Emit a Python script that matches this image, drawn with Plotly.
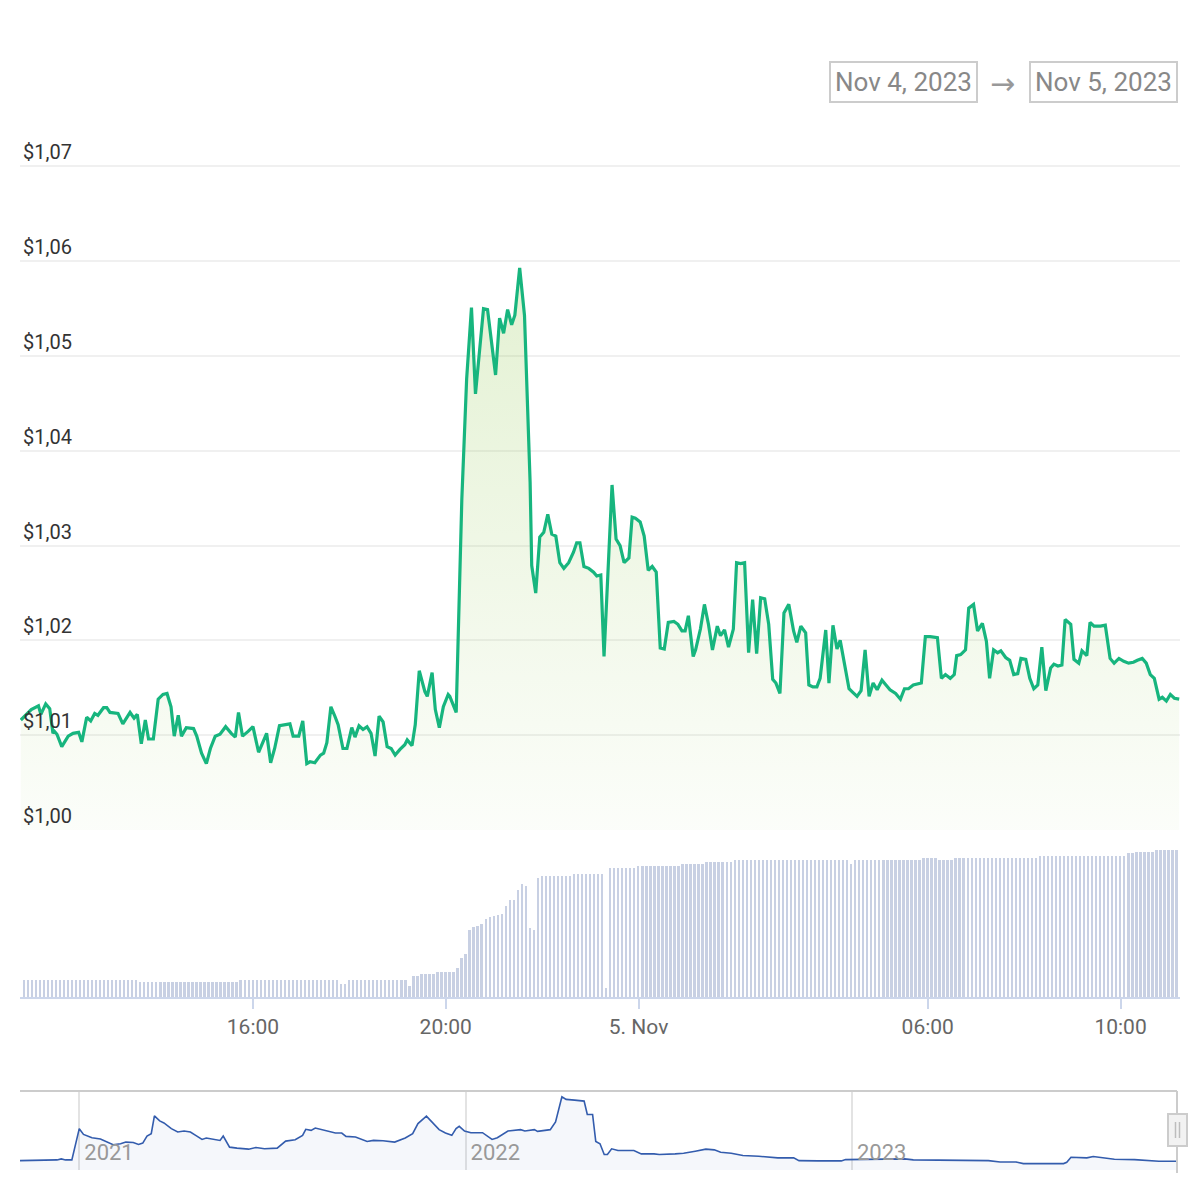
import pandas as pd
import plotly.graph_objects as go

# ---------------- data ----------------
START = pd.Timestamp("2023-11-04 11:00")

# minutes after 2023-11-04 11:00
price_minutes = [
    11, 24, 33, 36, 42, 47, 51, 53, 56, 62,
    70, 76, 83, 87, 93, 98, 103, 107, 114, 118,
    122, 132, 138, 147, 152, 156, 161, 166, 170, 176,
    182, 188, 193, 198, 202, 207, 211, 217, 226, 230,
    236, 242, 247, 253, 259, 266, 273, 278, 282, 287,
    294, 300, 307, 313, 317, 322, 327, 333, 340, 346,
    350, 357, 362, 367, 371, 377, 384, 388, 392, 397,
    402, 406, 412, 417, 423, 427, 432, 437, 442, 447,
    452, 457, 462, 467, 472, 477, 483, 489, 492, 498,
    502, 507, 514, 517, 523, 527, 532, 537, 543, 545,
    553, 560, 566, 572, 577, 587, 592, 602, 607, 612,
    617, 622, 626, 632, 638, 641, 645, 647, 652, 657,
    662, 667, 672, 677, 682, 687, 693, 699, 703, 707,
    712, 718, 724, 728, 733, 737, 747, 752, 757, 762,
    768, 772, 776, 782, 787, 792, 797, 802, 807, 812,
    817, 824, 829, 834, 838, 842, 848, 851, 857, 862,
    867, 872, 878, 882, 887, 892, 898, 902, 907, 912,
    917, 922, 927, 932, 937, 942, 947, 951, 956, 961,
    967, 973, 977, 982, 988, 992, 997, 1002, 1006, 1013,
    1017, 1022, 1027, 1031, 1035, 1042, 1047, 1052, 1057, 1062,
    1067, 1072, 1077, 1083, 1088, 1093, 1100, 1106, 1111, 1116,
    1122, 1132, 1137, 1143, 1152, 1157, 1162, 1168, 1173, 1176,
    1181, 1187, 1191, 1197, 1202, 1208, 1213, 1217, 1222, 1227,
    1231, 1237, 1242, 1247, 1252, 1256, 1262, 1267, 1272, 1277,
    1282, 1287, 1293, 1297, 1302, 1307, 1311, 1318, 1322, 1328,
    1332, 1338, 1342, 1347, 1355, 1361, 1367, 1372, 1378, 1384,
    1390, 1396, 1401, 1407, 1412, 1417, 1422, 1428, 1432, 1437,
    1442, 1447, 1453,
]

price_usd = [
    1.0116, 1.0127, 1.0131, 1.0122, 1.0133, 1.0128, 1.0102, 1.0104, 1.0101, 1.0088,
    1.0099, 1.0102, 1.0103, 1.0093, 1.0119, 1.0115, 1.0123, 1.0121, 1.0129, 1.0129,
    1.0124, 1.0123, 1.0112, 1.0124, 1.0118, 1.0122, 1.0091, 1.0116, 1.0096, 1.0096,
    1.0138, 1.0143, 1.0144, 1.0130, 1.0099, 1.0121, 1.0099, 1.0108, 1.0107, 1.0099,
    1.0081, 1.0070, 1.0086, 1.0099, 1.0101, 1.0109, 1.0102, 1.0098, 1.0124, 1.0099,
    1.0104, 1.0109, 1.0082, 1.0093, 1.0102, 1.0071, 1.0086, 1.0110, 1.0111, 1.0112,
    1.0099, 1.0099, 1.0115, 1.0070, 1.0072, 1.0071, 1.0079, 1.0081, 1.0092, 1.0130,
    1.0120, 1.0111, 1.0086, 1.0086, 1.0108, 1.0098, 1.0110, 1.0106, 1.0109, 1.0102,
    1.0078, 1.0120, 1.0114, 1.0088, 1.0086, 1.0079, 1.0085, 1.0090, 1.0095, 1.0089,
    1.0111, 1.0168, 1.0146, 1.0141, 1.0166, 1.0127, 1.0108, 1.0130, 1.0143, 1.0141,
    1.0124, 1.0349, 1.0476, 1.0551, 1.0460, 1.0550, 1.0549, 1.0480, 1.0540, 1.0524,
    1.0549, 1.0533, 1.0543, 1.0593, 1.0543, 1.0459, 1.0367, 1.0279, 1.0250, 1.0309,
    1.0314, 1.0333, 1.0312, 1.0310, 1.0282, 1.0276, 1.0282, 1.0293, 1.0303, 1.0303,
    1.0278, 1.0276, 1.0272, 1.0268, 1.0269, 1.0183, 1.0364, 1.0307, 1.0300, 1.0282,
    1.0287, 1.0330, 1.0329, 1.0325, 1.0310, 1.0274, 1.0278, 1.0272, 1.0192, 1.0191,
    1.0219, 1.0220, 1.0217, 1.0210, 1.0210, 1.0226, 1.0183, 1.0190, 1.0212, 1.0238,
    1.0217, 1.0190, 1.0215, 1.0205, 1.0211, 1.0193, 1.0212, 1.0282, 1.0281, 1.0282,
    1.0187, 1.0243, 1.0186, 1.0245, 1.0244, 1.0217, 1.0159, 1.0155, 1.0144, 1.0229,
    1.0238, 1.0210, 1.0198, 1.0215, 1.0208, 1.0153, 1.0151, 1.0151, 1.0160, 1.0211,
    1.0155, 1.0216, 1.0191, 1.0200, 1.0182, 1.0149, 1.0145, 1.0141, 1.0147, 1.0190,
    1.0141, 1.0155, 1.0148, 1.0158, 1.0153, 1.0148, 1.0144, 1.0138, 1.0149, 1.0149,
    1.0153, 1.0155, 1.0204, 1.0204, 1.0203, 1.0160, 1.0164, 1.0160, 1.0164, 1.0184,
    1.0185, 1.0190, 1.0234, 1.0238, 1.0210, 1.0218, 1.0199, 1.0160, 1.0190, 1.0187,
    1.0189, 1.0182, 1.0179, 1.0164, 1.0165, 1.0181, 1.0180, 1.0160, 1.0149, 1.0153,
    1.0193, 1.0147, 1.0171, 1.0175, 1.0173, 1.0174, 1.0222, 1.0217, 1.0180, 1.0176,
    1.0189, 1.0184, 1.0219, 1.0215, 1.0215, 1.0216, 1.0181, 1.0176, 1.0181, 1.0178,
    1.0176, 1.0177, 1.0179, 1.0181, 1.0176, 1.0164, 1.0160, 1.0138, 1.0140, 1.0136,
    1.0143, 1.0139, 1.0138,
]

# 5-minute volume bars (relative heights)
volume_first_bar = "2023-11-04 11:15"
volume_step_minutes = 5
volume_rel = [
    50, 50, 50, 50, 50, 50, 50, 50, 50, 50, 50, 50, 50, 50, 50, 50, 50, 50, 50, 50,
    50, 50, 50, 50, 50, 50, 50, 50, 50,
    43, 43, 43, 43, 43, 43, 43, 43, 43, 43, 43, 43, 43, 43, 43, 43, 43, 43, 43, 43,
    43, 43, 43, 43, 43,
    50, 50, 50, 50, 50, 50, 50, 50, 50, 50, 50, 50, 50, 50, 50, 50, 50, 50, 50, 50,
    50, 50, 50, 50, 50,
    38, 38,
    50, 50, 50, 50, 50, 50, 50, 50, 50, 50, 50, 50, 50, 50, 50,
    33, 62, 62, 68, 68, 68, 68, 73, 73, 73, 73, 73,
    85, 115, 128, 200, 208, 212, 218, 234, 238, 242, 245, 248, 272, 290, 290, 320,
    338, 332, 205, 200, 355, 360,
    362, 362, 362, 362, 362, 362, 362,
    368, 368, 368, 368, 368, 368, 368, 368,
    25,
    385, 385, 385, 385, 385, 385, 385,
    392, 392, 392, 392, 392, 392, 392, 392, 392, 392, 392,
    398, 398, 398, 398, 398, 398,
    404, 404, 404, 404, 404, 404, 404,
    410, 410, 410, 410, 410, 410, 410, 410, 410, 410, 410, 410, 410, 410, 410, 410,
    410, 410, 410, 410, 410, 410, 410, 410, 410, 410, 410, 410, 410,
    398,
    410, 410, 410, 410, 410, 410, 410, 410, 410, 410, 410, 410, 410, 410, 410, 410, 410,
    416, 416, 416, 416,
    410, 410, 410, 410,
    416, 416, 416, 416, 416, 416, 416, 416, 416, 416, 416, 416, 416, 416, 416, 416,
    416, 416, 416, 416, 416,
    422, 422, 422, 422, 422, 422, 422, 422, 422, 422, 422, 422, 422, 422, 422, 422,
    422, 422, 422, 422, 422, 422,
    430, 430,
    434, 434, 434, 434, 434,
    440, 440, 440, 440, 440, 440,
]

# navigator (full history, relative level)
nav_dates = [
    "2020-11-06", "2020-11-25", "2020-12-11", "2020-12-15", "2020-12-19", "2020-12-25",
    "2021-01-01", "2021-01-05", "2021-01-13", "2021-01-21", "2021-01-27",
    "2021-02-02", "2021-02-09", "2021-02-14", "2021-02-21", "2021-02-26",
    "2021-03-02", "2021-03-06", "2021-03-10", "2021-03-13", "2021-03-18", "2021-03-22", "2021-03-29",
    "2021-04-04", "2021-04-10", "2021-04-16", "2021-04-21", "2021-04-27",
    "2021-05-01", "2021-05-08", "2021-05-14", "2021-05-17", "2021-05-23", "2021-05-30",
    "2021-06-10", "2021-06-17", "2021-06-25",
    "2021-07-07", "2021-07-15", "2021-07-24", "2021-07-31",
    "2021-08-03", "2021-08-08", "2021-08-12", "2021-08-21", "2021-08-31",
    "2021-09-06", "2021-09-10", "2021-09-19", "2021-09-25", "2021-09-30",
    "2021-10-06", "2021-10-15", "2021-10-26",
    "2021-11-05", "2021-11-12", "2021-11-17", "2021-11-25",
    "2021-12-01", "2021-12-07", "2021-12-13", "2021-12-19", "2021-12-23", "2021-12-26", "2021-12-31",
    "2022-01-06", "2022-01-17", "2022-01-21", "2022-01-26", "2022-01-31",
    "2022-02-10", "2022-02-22", "2022-02-26",
    "2022-03-07", "2022-03-10", "2022-03-22", "2022-03-27",
    "2022-04-02", "2022-04-06", "2022-04-14", "2022-04-23", "2022-04-26",
    "2022-05-01", "2022-05-04", "2022-05-08", "2022-05-12", "2022-05-15", "2022-05-19", "2022-05-25",
    "2022-06-09", "2022-06-16", "2022-06-28",
    "2022-07-03", "2022-07-18", "2022-07-26",
    "2022-08-06", "2022-08-16", "2022-08-24", "2022-08-30",
    "2022-09-09", "2022-09-20",
    "2022-10-05", "2022-10-23",
    "2022-11-07", "2022-11-12", "2022-11-30",
    "2022-12-22", "2022-12-26",
    "2023-01-06", "2023-02-05", "2023-02-20", "2023-02-28", "2023-04-10", "2023-05-10",
    "2023-05-21", "2023-06-05", "2023-06-12", "2023-07-20", "2023-07-23", "2023-07-27",
    "2023-08-11", "2023-08-17", "2023-09-06", "2023-09-25", "2023-10-18", "2023-11-05",
]
nav_level = [
    28, 28, 30, 33, 30, 30,
    123, 106, 96, 92, 83,
    75, 78, 83, 82, 76,
    80, 101, 108, 161, 146, 140, 123,
    113, 116, 113, 103, 91,
    95, 92, 88, 101, 68, 65,
    62, 67, 63,
    65, 86, 90, 103,
    121, 118, 125, 118, 110,
    110, 100, 98, 91, 85,
    88, 87, 83,
    95, 108, 138, 160,
    140, 120, 110, 103, 123, 130, 116,
    111, 111, 103, 91, 96,
    116, 120, 116,
    120, 115, 120, 143,
    218, 210, 208, 205, 165,
    165, 85, 78, 46, 46, 63, 58,
    58, 48, 48,
    46, 48, 50,
    56, 62, 60, 53,
    50, 43,
    41, 36,
    36, 28, 27,
    27, 31,
    31, 33, 33, 30, 28, 28,
    24, 24, 19, 19, 23, 38,
    36, 40, 32, 31, 26, 26,
]

x_tickvals = ["2023-11-04 16:00", "2023-11-04 20:00", "2023-11-05 00:00",
              "2023-11-05 06:00", "2023-11-05 10:00"]
x_ticktext = ["16:00", "20:00", "5. Nov", "06:00", "10:00"]
y_tickvals = [1.00, 1.01, 1.02, 1.03, 1.04, 1.05, 1.06, 1.07]
y_ticktext = ["$1,00", "$1,01", "$1,02", "$1,03", "$1,04", "$1,05", "$1,06", "$1,07"]
range_from, range_to = "Nov 4, 2023", "Nov 5, 2023"

# ---------------- figure ----------------
price_times = [START + pd.Timedelta(minutes=m) for m in price_minutes]
bar_t0 = pd.Timestamp(volume_first_bar)
bar_times = [bar_t0 + pd.Timedelta(minutes=volume_step_minutes * i) for i in range(len(volume_rel))]

FONT = "Roboto"
H = 1200.0

def py(pix):  # paper y from pixel row (no top/bottom margin)
    return 1 - pix / H

def px_x(pix):  # paper x from pixel column (plot spans 20..1180)
    return (pix - 20) / 1160.0

fig = go.Figure()

fig.add_trace(go.Bar(
    x=bar_times, y=volume_rel, xaxis="x", yaxis="y2",
    marker=dict(color="#c8d0e3", line=dict(width=0)),
    width=2.3 * 60 * 1000, hoverinfo="skip",
))

fig.add_trace(go.Scatter(
    x=price_times, y=price_usd, xaxis="x", yaxis="y", mode="lines",
    line=dict(color="#17b57e", width=3.2),
    fill="tozeroy",
    fillgradient=dict(type="vertical",
                      colorscale=[[0, "rgba(141,198,71,0.03)"], [1, "rgba(141,198,71,0.28)"]],
                      start=1.0, stop=1.07),
    hoverinfo="skip",
))

fig.add_trace(go.Scatter(
    x=nav_dates, y=nav_level, xaxis="x2", yaxis="y3", mode="lines",
    line=dict(color="#335cad", width=1.6),
    fill="tozeroy", fillcolor="rgba(51,92,173,0.05)",
    hoverinfo="skip",
))

fig.update_layout(
    width=1200, height=1200,
    margin=dict(l=20, r=20, t=0, b=0),
    paper_bgcolor="white", plot_bgcolor="white",
    showlegend=False, hovermode=False,
    font=dict(family=FONT, size=20, color="#333333"),
    bargap=0,
    xaxis=dict(
        domain=[0, 1], anchor="y2", type="date",
        range=["2023-11-04 11:10", "2023-11-05 11:14"],
        showgrid=False, zeroline=False,
        showline=True, linecolor="#ccd6eb", linewidth=1.5,
        ticks="outside", ticklen=10, tickcolor="#ccd6eb", tickwidth=1.5,
        tickvals=x_tickvals, ticktext=x_ticktext,
        tickfont=dict(family=FONT, size=21, color="#666666"),
    ),
    yaxis=dict(
        domain=[py(830), py(120)], anchor="x",
        range=[1.0, 1.0749], tickvals=y_tickvals, ticktext=y_ticktext,
        ticklabelposition="inside top",
        tickfont=dict(family=FONT, size=20, color="#333333"),
        showgrid=True, gridcolor="#f0f0f0", gridwidth=1.5,
        zeroline=False, showline=False, ticks="",
    ),
    yaxis2=dict(
        domain=[py(997), py(843.3)], anchor="x",
        range=[0, 460], visible=False,
    ),
    xaxis2=dict(
        domain=[0, 1], anchor="y3", type="date",
        range=["2020-11-06", "2023-11-07"],
        tick0="2021-01-01", dtick="M12", tickformat="%Y",
        ticklabelposition="inside right", ticks="",
        ticklabelshift=5,
        tickfont=dict(family=FONT, size=22, color="#999999"),
        showgrid=True, gridcolor="#e3e3e3", gridwidth=1.5,
        zeroline=False, showline=False,
    ),
    yaxis3=dict(
        domain=[py(1170), py(1091)], anchor="x2",
        range=[0, 235], visible=False,
    ),
)

# navigator outline + handle
fig.add_shape(type="line", xref="paper", yref="paper",
              x0=0, x1=px_x(1177), y0=py(1091), y1=py(1091),
              line=dict(color="#cccccc", width=2))
fig.add_shape(type="line", xref="paper", yref="paper",
              x0=px_x(1177), x1=px_x(1177), y0=py(1173), y1=py(1091),
              line=dict(color="#cccccc", width=2))
fig.add_shape(type="rect", xref="paper", yref="paper",
              x0=px_x(1168), x1=px_x(1187), y0=py(1146), y1=py(1114),
              fillcolor="#f2f2f2", line=dict(color="#cccccc", width=2))
for cx in (1175.5, 1179.5):
    fig.add_shape(type="line", xref="paper", yref="paper",
                  x0=px_x(cx), x1=px_x(cx), y0=py(1138), y1=py(1122),
                  line=dict(color="#bdbdbd", width=1.5))

# range selector boxes
for label, cx in ((range_from, 903), (range_to, 1103)):
    fig.add_annotation(xref="paper", yref="paper", x=px_x(cx), y=py(82.5),
                       xanchor="center", yanchor="middle", showarrow=False,
                       text=label, font=dict(family=FONT, size=26, color="#888888"),
                       bordercolor="#cccccc", borderwidth=2, borderpad=4, bgcolor="white")
fig.add_annotation(xref="paper", yref="paper", x=px_x(1003), y=py(83),
                   xanchor="center", yanchor="middle", showarrow=False,
                   text="→", font=dict(family="DejaVu Sans", size=30, color="#999999"))

fig.write_html("out.html")
